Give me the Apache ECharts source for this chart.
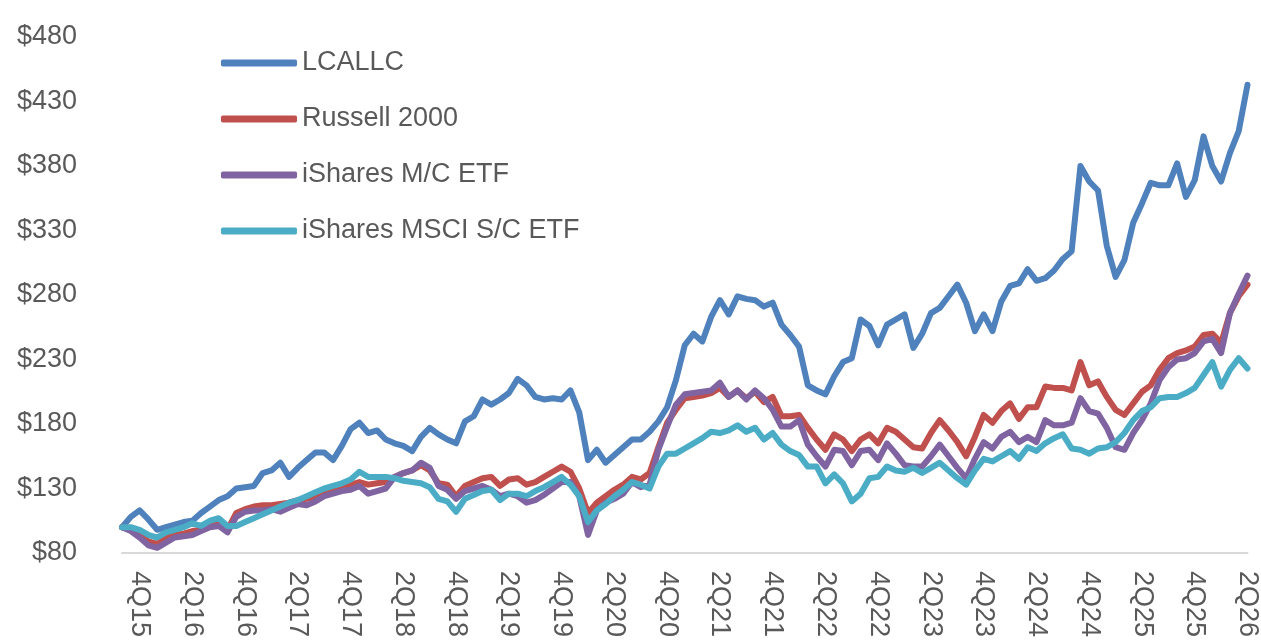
<!DOCTYPE html>
<html>
<head>
<meta charset="utf-8">
<script src="https://cdn.jsdelivr.net/npm/echarts@6/dist/echarts.min.js"></script>
<style>
html,body{margin:0;padding:0;background:#fff;}
#chart{width:1261px;height:641px;}
</style>
</head>
<body>
<div id="chart"></div>
<script>
const tickLabels = ['4Q15','2Q16','4Q16','2Q17','4Q17','2Q18','4Q18','2Q19','4Q19','2Q20','4Q20','2Q21','4Q21','2Q22','4Q22','2Q23','4Q23','2Q24','4Q24','2Q25','4Q25','2Q26'];

const lcallc = [100,108,113,106,98,100,102,104,105,111,116,121,124,130,131,132,142,144,150,139,
146,152,158,158,152,163,176,181,173,175,168,165,163,159,170,177,172,168,165,182,
186,199,195,199,204,215,210,201,199,200,199,206,189,152,160,150,156,162,168,168,
174,182,193,214,241,250,244,263,276,265,279,277,276,271,274,257,249,240,210,206,
203,217,228,231,261,256,241,257,261,265,239,250,266,270,279,288,274,252,265,252,
275,287,289,300,291,293,299,308,314,380,368,361,318,294,307,336,351,367,365,365,
382,356,369,403,380,368,390,407,443];

const russell = [100,98,95,89,87,92,94,95,97,98,101,103,98,111,114,116,117,117,118,119,
121,122,124,126,128,130,133,135,133,134,135,139,142,144,148,144,134,133,124,132,
135,138,139,132,137,138,133,135,139,143,147,143,130,111,119,124,129,133,139,137,
142,162,181,191,200,201,202,204,208,201,206,200,205,197,201,186,186,187,177,168,
160,172,168,159,168,172,165,177,174,168,162,161,173,183,175,166,155,170,187,181,
190,196,184,193,193,209,208,208,206,228,210,213,201,191,187,196,205,210,222,231,
235,237,240,249,250,243,266,279,288];

const midcap = [100,97,92,86,84,88,92,93,94,97,100,101,96,108,112,113,113,114,112,115,
118,117,120,124,126,128,129,132,126,128,130,139,142,144,150,146,132,129,122,128,
130,132,129,124,126,124,119,121,125,130,135,135,124,94,113,119,122,126,135,131,
133,160,178,195,203,204,205,206,212,201,206,199,206,200,191,178,178,183,164,155,
147,160,159,148,159,160,152,165,157,148,147,147,155,164,155,146,138,153,166,161,
170,174,166,170,166,183,179,179,181,200,190,188,177,162,160,173,183,196,214,224,
230,231,235,244,246,235,266,281,295];

const smallcap = [100,100,98,94,92,96,98,100,103,101,105,107,101,101,104,107,110,113,116,119,
121,124,127,130,132,134,137,143,139,139,139,138,136,135,134,131,122,120,112,122,
125,128,129,121,126,126,124,128,131,135,139,133,124,104,113,118,124,129,135,133,
130,147,157,157,161,165,169,174,173,175,179,174,177,168,173,164,159,156,147,147,
134,141,134,120,126,138,139,147,144,143,146,142,146,150,144,138,133,144,153,151,
155,159,153,162,159,165,169,172,161,160,157,161,162,166,173,183,190,193,200,201,
201,204,208,218,228,209,222,231,223];

const seriesNames = ['LCALLC','Russell 2000','iShares M/C ETF','iShares MSCI S/C ETF'];
const seriesColors = ['#4f81bd','#c0504d','#8064a2','#4bacc6'];
const seriesData = [lcallc, russell, midcap, smallcap];

// category axis: one slot per data point; a tick label on every sixth slot starting at slot 2
const categories = lcallc.map((_, i) => ((i - 2) % 6 === 0 && i >= 2) ? tickLabels[(i - 2) / 6] : '');

const font = "'Liberation Sans', Arial, sans-serif";
const textColor = '#595959';

const chart = echarts.init(document.getElementById('chart'), null, {renderer: 'canvas'});
chart.setOption({
  animation: false,
  backgroundColor: '#ffffff',
  color: seriesColors,
  grid: {left: 122, right: 13, top: 37, bottom: 88, containLabel: false},
  legend: {
    orient: 'vertical',
    left: 216,
    top: 42,
    itemWidth: 76,
    itemHeight: 7,
    itemGap: 24,
    icon: 'roundRect',
    data: seriesNames,
    textStyle: {fontFamily: font, fontSize: 27, color: textColor, lineHeight: 32}
  },
  xAxis: {
    type: 'category',
    data: categories,
    boundaryGap: false,
    axisLine: {show: true, lineStyle: {color: '#d9d9d9', width: 2}},
    axisTick: {show: false},
    splitLine: {show: false},
    axisLabel: {
      interval: (idx, val) => val !== '',
      rotate: -90,
      margin: 18,
      fontFamily: font,
      fontSize: 27,
      color: textColor
    }
  },
  yAxis: {
    type: 'value',
    min: 80,
    max: 480,
    interval: 50,
    axisLine: {show: false},
    axisTick: {show: false},
    splitLine: {show: false},
    axisLabel: {
      formatter: v => '$' + v,
      margin: 45,
      fontFamily: font,
      fontSize: 27,
      color: textColor
    }
  },
  series: seriesNames.map((name, k) => ({
    name: name,
    type: 'line',
    data: seriesData[k],
    showSymbol: false,
    symbol: 'none',
    lineStyle: {width: 6, color: seriesColors[k], cap: 'round', join: 'round'},
    itemStyle: {color: seriesColors[k]}
  }))
});
</script>
</body>
</html>
